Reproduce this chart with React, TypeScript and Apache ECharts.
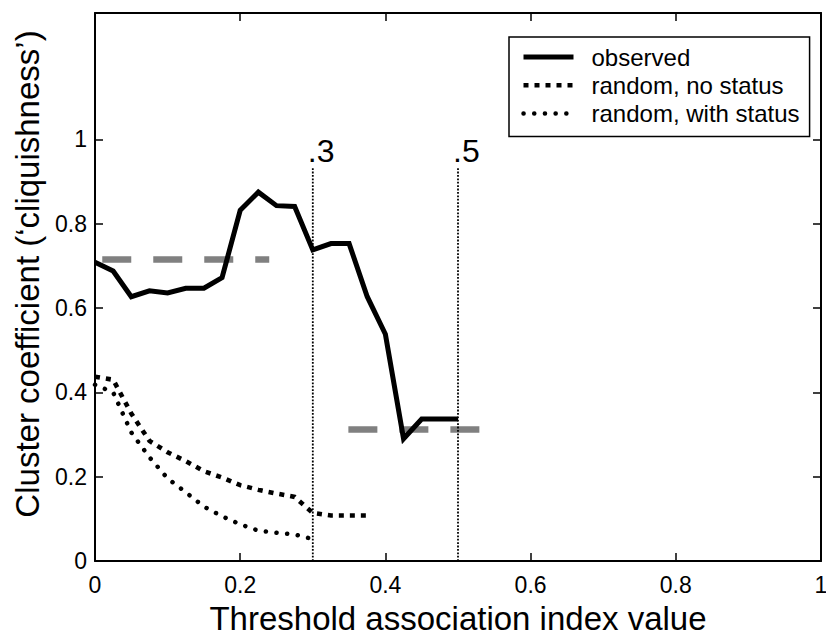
import React, { useEffect, useRef } from "react";
import * as echarts from "echarts";

const FONT = '"Liberation Sans", Arial, Helvetica, sans-serif';

// Observed cluster coefficient
const observedX = [0, 0.025, 0.05, 0.075, 0.1, 0.125, 0.15, 0.175, 0.2, 0.225, 0.25, 0.275, 0.3, 0.325, 0.35, 0.375, 0.4, 0.425, 0.45, 0.475, 0.5];
const observedY = [0.709, 0.688, 0.627, 0.641, 0.636, 0.647, 0.647, 0.672, 0.832, 0.875, 0.843, 0.841, 0.738, 0.753, 0.753, 0.627, 0.538, 0.29, 0.337, 0.337, 0.337];

// Random, no status
const noStatusX = [0, 0.025, 0.05, 0.075, 0.1, 0.125, 0.15, 0.175, 0.2, 0.225, 0.25, 0.275, 0.3, 0.325, 0.35, 0.375];
const noStatusY = [0.437, 0.43, 0.35, 0.285, 0.258, 0.237, 0.213, 0.198, 0.18, 0.169, 0.16, 0.152, 0.114, 0.108, 0.108, 0.108];

// Random, with status
const withStatusX = [0, 0.025, 0.05, 0.075, 0.1, 0.125, 0.15, 0.175, 0.2, 0.225, 0.25, 0.275, 0.3];
const withStatusY = [0.418, 0.4, 0.305, 0.246, 0.196, 0.163, 0.129, 0.106, 0.087, 0.072, 0.067, 0.063, 0.052];

// Grey dashed mean levels
const meanLevelX1 = [0.01, 0.24];
const meanLevel1 = 0.715;
const meanLevelX2 = [0.349, 0.531];
const meanLevel2 = 0.312;

// Threshold markers
const thresholdX = [0.3, 0.5];
const thresholdTop = 0.934;
const thresholdLabels = [".3", ".5"];

// Tick values
const xTicks = [0, 0.2, 0.4, 0.6, 0.8, 1];
const yTicks = [0, 0.2, 0.4, 0.6, 0.8, 1];

const legendNames = ["observed", "random, no status", "random, with status"];

const pairs = (xs: number[], ys: number[]) => xs.map((x, i) => [x, ys[i]]);

const observedStyle = { color: "#000", width: 5, join: "miter", cap: "butt" };
const noStatusStyle = { color: "#000", width: 4.6, type: [5, 6], cap: "butt", join: "miter" };
const withStatusStyle = { color: "#000", width: 4.5, type: [0.1, 10.6], cap: "round" };

export default function App() {
  const ref = useRef<HTMLDivElement>(null);
  useEffect(() => {
    document.body.style.margin = "0";
    const chart = echarts.init(ref.current!, null, { renderer: "svg" });

    const axisLine = { show: true, onZero: false, lineStyle: { color: "#000", width: 2 } };
    const axisTick = { show: true, inside: true, length: 8, lineStyle: { color: "#000", width: 1.5 } };
    const labelStyle = { color: "#000", fontSize: 23, fontFamily: FONT };

    const xBase = { type: "value", min: 0, max: 1, interval: 0.2, splitLine: { show: false }, axisLine };
    const yBase = { type: "value", min: 0, max: 1.3, interval: 0.2, splitLine: { show: false }, axisLine };

    const legendStyles = [observedStyle, noStatusStyle, withStatusStyle];

    const option: any = {
      animation: false,
      backgroundColor: "#fff",
      textStyle: { fontFamily: FONT },
      grid: { left: 95, right: 5, top: 13, bottom: 76, containLabel: false, outerBoundsMode: "none" },
      xAxis: [
        {
          ...xBase,
          position: "bottom",
          name: "Threshold association index value",
          nameLocation: "middle",
          nameGap: 41,
          nameTextStyle: { color: "#000", fontSize: 33, fontFamily: FONT },
          axisTick: { ...axisTick, customValues: xTicks },
          axisLabel: { ...labelStyle, margin: 12, customValues: xTicks, formatter: (v: number) => String(+v.toFixed(1)) },
        },
        {
          ...xBase,
          position: "top",
          axisTick: { ...axisTick, customValues: xTicks },
          axisLabel: { show: false },
        },
      ],
      yAxis: [
        {
          ...yBase,
          position: "left",
          name: "Cluster coefficient (\u2018cliquishness\u2019)",
          nameLocation: "middle",
          nameGap: 50,
          nameTextStyle: { color: "#000", fontSize: 33, fontFamily: FONT, padding: [0, 0, 0, 26] },
          axisTick: { ...axisTick, customValues: yTicks },
          axisLabel: { ...labelStyle, margin: 8, customValues: yTicks, formatter: (v: number) => String(+v.toFixed(1)) },
        },
        {
          ...yBase,
          position: "right",
          axisTick: { ...axisTick, customValues: yTicks },
          axisLabel: { show: false },
        },
      ],
      legend: {
        data: legendNames.map((n, i) => ({
          name: n,
          itemStyle: { opacity: 0 },
          lineStyle: legendStyles[i],
        })),
        orient: "vertical",
        left: 509,
        top: 37,
        padding: [8, 10, 11, 12],
        itemWidth: 50,
        itemHeight: 14,
        itemGap: 4.3,
        borderColor: "#000",
        borderWidth: 1.5,
        backgroundColor: "#fff",
        selectedMode: false,
        itemStyle: { opacity: 0 },
        textStyle: { fontSize: 24, color: "#000", fontFamily: FONT, padding: [0, 0, 0, 13] },
      },
      series: [
        {
          name: "mean1",
          type: "line",
          data: pairs(meanLevelX1, [meanLevel1, meanLevel1]),
          symbol: "none",
          silent: true,
          z: 1,
          lineStyle: { color: "#808080", width: 6.5, type: [29, 22], cap: "butt" },
        },
        {
          name: "mean2",
          type: "line",
          data: pairs(meanLevelX2, [meanLevel2, meanLevel2]),
          symbol: "none",
          silent: true,
          z: 1,
          lineStyle: { color: "#808080", width: 6.5, type: [29, 22], cap: "butt" },
        },
        ...thresholdX.map((t, i) => ({
          name: "threshold" + i,
          type: "line",
          data: [[t, 0], [t, thresholdTop]],
          symbol: "none",
          silent: true,
          z: 2,
          lineStyle: { color: "#000", width: 1.8, type: [1.8, 1.6], cap: "butt" },
        })),
        {
          name: "observed",
          type: "line",
          data: pairs(observedX, observedY),
          symbol: "none",
          z: 4,
          color: "#000",
          lineStyle: observedStyle,
        },
        {
          name: "random, no status",
          type: "line",
          data: pairs(noStatusX, noStatusY),
          symbol: "none",
          z: 3,
          color: "#000",
          lineStyle: noStatusStyle,
        },
        {
          name: "random, with status",
          type: "line",
          data: pairs(withStatusX, withStatusY),
          symbol: "none",
          z: 3,
          color: "#000",
          lineStyle: withStatusStyle,
        },
        {
          name: "thresholdLabels",
          type: "scatter",
          data: thresholdX.map((t) => [t, thresholdTop]),
          symbol: "circle",
          symbolSize: 1,
          itemStyle: { color: "rgba(0,0,0,0)" },
          silent: true,
          z: 5,
          label: {
            show: true,
            position: "top",
            distance: 0,
            align: "left",
            offset: [-5, 0],
            color: "#000",
            opacity: 1,
            fontSize: 32,
            fontFamily: FONT,
            formatter: (p: any) => thresholdLabels[p.dataIndex],
          },
        },
      ],
    };
    chart.setOption(option);
    return () => chart.dispose();
  }, []);
  return <div ref={ref} style={{ width: 826, height: 637 }} />;
}
